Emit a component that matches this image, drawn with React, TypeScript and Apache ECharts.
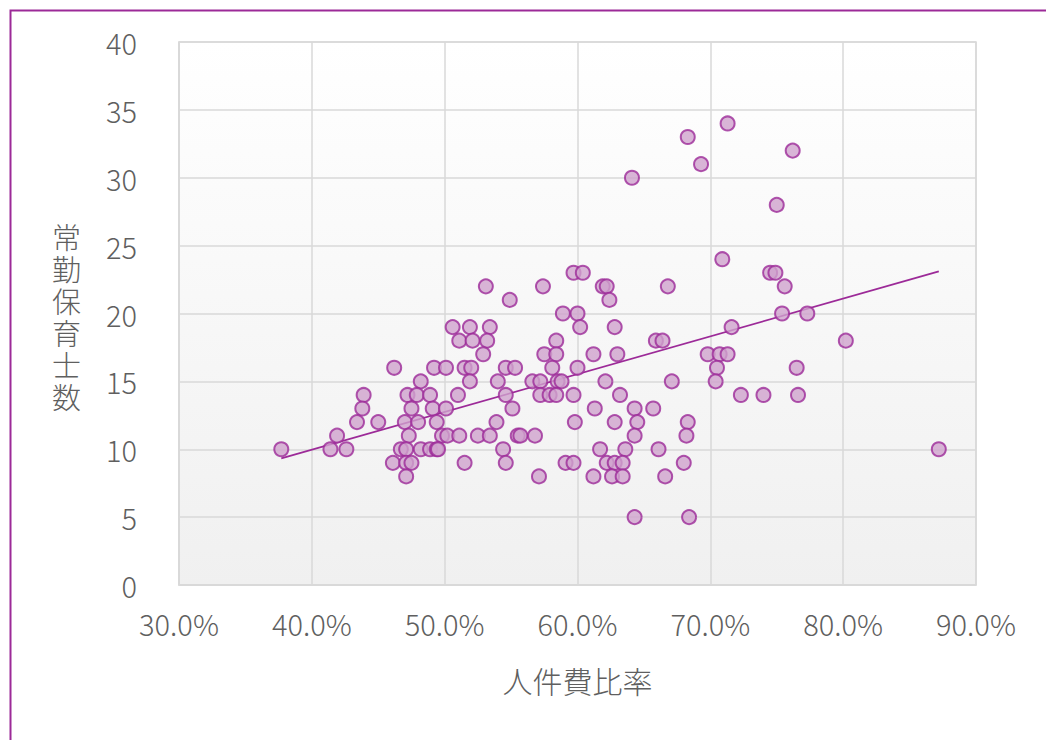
import React, { useEffect, useRef } from "react";
import * as echarts from "echarts";

// 人件費比率 (%) and 常勤保育士数, row by row
const personnelRatio: number[] = [
  71.3, // 34
  68.3, // 33
  76.2, // 32
  69.3, // 31
  64.1, // 30
  75.0, // 28
  70.9, // 24
  59.7, 60.4, 74.5, 74.9, // 23
  53.1, 57.4, 61.9, 62.2, 66.8, 75.6, // 22
  54.9, 62.4, // 21
  58.9, 60.0, 75.4, 77.3, // 20
  50.6, 51.9, 53.4, 60.2, 62.8, 71.6, // 19
  51.1, 52.1, 53.2, 58.4, 65.9, 66.4, 80.2, // 18
  52.9, 57.5, 58.4, 61.2, 63.0, 69.8, 70.7, 71.3, // 17
  46.2, 49.2, 50.1, 51.5, 52.0, 54.6, 55.3, 58.1, 60.0, 70.5, 76.5, // 16
  48.2, 51.9, 54.0, 56.6, 57.2, 58.5, 58.8, 62.1, 67.1, 70.4, // 15
  43.9, 47.2, 47.9, 48.9, 51.0, 54.6, 57.2, 57.9, 58.4, 59.7, 63.2, 72.3, 74.0, 76.6, // 14
  43.8, 47.5, 49.1, 50.1, 55.1, 61.3, 64.3, 65.7, // 13
  43.4, 45.0, 47.0, 48.0, 49.4, 53.9, 59.8, 62.8, 64.5, 68.3, // 12
  41.9, 47.3, 49.8, 50.2, 51.1, 52.5, 53.4, 55.5, 55.7, 56.8, 64.3, 68.2, // 11
  37.7, 41.4, 42.6, 46.7, 47.1, 48.2, 48.9, 49.4, 49.5, 54.4, 61.7, 63.6, 66.1, 87.2, // 10
  46.1, 47.1, 47.5, 51.5, 54.6, 59.1, 59.7, 62.2, 62.8, 63.4, 68.0, // 9
  47.1, 57.1, 61.2, 62.6, 63.4, 66.6, // 8
  64.3, 68.4, // 5
];

const staffCount: number[] = [
  34,
  33,
  32,
  31,
  30,
  28,
  24,
  23, 23, 23, 23,
  22, 22, 22, 22, 22, 22,
  21, 21,
  20, 20, 20, 20,
  19, 19, 19, 19, 19, 19,
  18, 18, 18, 18, 18, 18, 18,
  17, 17, 17, 17, 17, 17, 17, 17,
  16, 16, 16, 16, 16, 16, 16, 16, 16, 16, 16,
  15, 15, 15, 15, 15, 15, 15, 15, 15, 15,
  14, 14, 14, 14, 14, 14, 14, 14, 14, 14, 14, 14, 14, 14,
  13, 13, 13, 13, 13, 13, 13, 13,
  12, 12, 12, 12, 12, 12, 12, 12, 12, 12,
  11, 11, 11, 11, 11, 11, 11, 11, 11, 11, 11, 11,
  10, 10, 10, 10, 10, 10, 10, 10, 10, 10, 10, 10, 10, 10,
  9, 9, 9, 9, 9, 9, 9, 9, 9, 9, 9,
  8, 8, 8, 8, 8, 8,
  5, 5,
];

// Linear trendline (Excel), coefficients
const trendSlope = 0.2784; // staff per percentage point
const trendIntercept = -1.17;

const xAxisTitle = "人件費比率";
const yAxisTitle = "常勤保育士数";

const PURPLE = "#9c2a98";
const FILL = "#cfa3cd";
const TEXT = "#5f5f5f";
const GRID = "#d9d9d9";
const FONT = '"Noto Sans CJK JP", "Noto Sans", sans-serif';

export default function App() {
  const ref = useRef<HTMLDivElement>(null);

  useEffect(() => {
    if (!ref.current) return;
    const chart = echarts.init(ref.current, null, { renderer: "svg" });
    const points = personnelRatio.map((x, i) => [x, staffCount[i]]);
    const xMin = Math.min(...personnelRatio);
    const xMax = Math.max(...personnelRatio);
    const trend = [
      [xMin, trendSlope * xMin + trendIntercept],
      [xMax, trendSlope * xMax + trendIntercept],
    ];

    chart.setOption({
      animation: false,
      backgroundColor: "#ffffff",
      grid: {
        left: 179,
        top: 42,
        width: 797,
        height: 543,
        show: true,
        borderColor: GRID,
        borderWidth: 1.5,
        backgroundColor: new echarts.graphic.LinearGradient(0, 0, 0, 1, [
          { offset: 0, color: "#ffffff" },
          { offset: 1, color: "#f0f0f0" },
        ]),
      },
      xAxis: {
        type: "value",
        min: 30,
        max: 90,
        interval: 10,
        name: xAxisTitle,
        nameLocation: "middle",
        nameGap: 80,
        nameTextStyle: { color: TEXT, fontSize: 30, fontFamily: FONT, fontWeight: 300 },
        axisLine: { show: true, lineStyle: { color: GRID, width: 1.5 } },
        axisTick: { show: false },
        axisLabel: {
          color: TEXT,
          fontSize: 29,
          fontFamily: FONT,
          fontWeight: 300,
          margin: 23,
          formatter: (v: number) => v.toFixed(1) + "%",
        },
        splitLine: { show: true, lineStyle: { color: GRID, width: 1.5 } },
      },
      yAxis: {
        type: "value",
        min: 0,
        max: 40,
        interval: 5,
        axisLine: { show: true, lineStyle: { color: GRID, width: 1.5 } },
        axisTick: { show: false },
        axisLabel: {
          color: TEXT,
          fontSize: 29,
          fontFamily: FONT,
          fontWeight: 300,
          margin: 42,
        },
        splitLine: { show: true, lineStyle: { color: GRID, width: 1.5 } },
      },
      graphic: [
        {
          type: "rect",
          left: 8,
          top: 8,
          shape: { width: 1200, height: 900 },
          style: { fill: "none", stroke: PURPLE, lineWidth: 2 },
          silent: true,
        },
        {
          type: "text",
          left: 52,
          top: 220,
          style: {
            text: yAxisTitle.split("").join("\n"),
            fill: TEXT,
            font: `300 29px ${FONT}`,
            lineHeight: 32,
          },
        },
      ],
      series: [
        {
          type: "scatter",
          data: points,
          symbol: "circle",
          symbolSize: 14,
          itemStyle: { color: FILL, borderColor: PURPLE, borderWidth: 2 },
          z: 3,
        },
        {
          type: "line",
          data: trend,
          symbol: "none",
          lineStyle: { color: PURPLE, width: 1.8 },
          z: 2,
        },
      ],
    });
    return () => chart.dispose();
  }, []);

  return (
    <div
      ref={ref}
      style={{ position: "absolute", left: 0, top: 0, width: 1046, height: 740 }}
    />
  );
}
